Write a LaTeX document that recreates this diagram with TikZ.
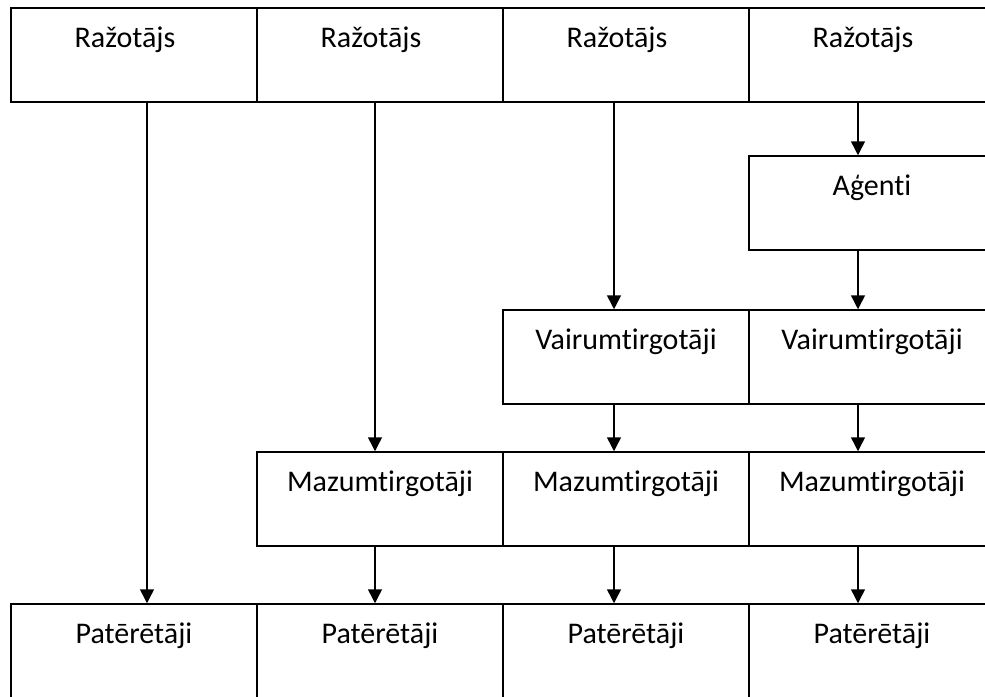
\documentclass[tikz,border=0pt]{standalone}
\usepackage{fontspec}
\setmainfont[Ligatures={NoCommon}]{Carlito}
\usetikzlibrary{arrows.meta}

\begin{document}
\begin{tikzpicture}[x=1pt, y=-1pt, line width=1.5pt,
        cell/.style={draw, rectangle, minimum width=246pt, inner xsep=0pt, inner ysep=0pt,
            text height=39pt, text depth=55pt, font=\fontsize{30}{36}\selectfont},
        arr/.style={-{Triangle[length=14pt, width=14pt]}}]
            \useasboundingbox (0, 0) rectangle (985, 696);
            % razotaji
            \node[cell] (r1) at (134, 55) {Ražotājs\hspace*{18pt}};
            \node[cell] (r2) at (380, 55) {Ražotājs\hspace*{18pt}};
            \node[cell] (r3) at (626, 55) {Ražotājs\hspace*{18pt}};
            \node[cell] (r4) at (872, 55) {Ražotājs\hspace*{18pt}};
            % agenti
            \node[cell] (ag) at (872, 203) {Aģenti};
            % vairumtirgotaji
            \node[cell] (v3) at (626, 357) {Vairumtirgotāji};
            \node[cell] (v4) at (872, 357) {Vairumtirgotāji};
            % mazumtirgotaji
            \node[cell] (m2) at (380, 499) {Mazumtirgotāji};
            \node[cell] (m3) at (626, 499) {Mazumtirgotāji};
            \node[cell] (m4) at (872, 499) {Mazumtirgotāji};
            % pateretaji
            \node[cell] (p1) at (134, 651) {Patērētāji};
            \node[cell] (p2) at (380, 651) {Patērētāji};
            \node[cell] (p3) at (626, 651) {Patērētāji};
            \node[cell] (p4) at (872, 651) {Patērētāji};
            % arrows
            \draw[arr] ([xshift=13pt]r1.south) -- ([xshift=13pt]p1.north);
            \draw[arr] ([xshift=-5pt]r2.south) -- ([xshift=-5pt]m2.north);
            \draw[arr] ([xshift=-5pt]m2.south) -- ([xshift=-5pt]p2.north);
            \draw[arr] ([xshift=-12pt]r3.south) -- ([xshift=-12pt]v3.north);
            \draw[arr] ([xshift=-12pt]v3.south) -- ([xshift=-12pt]m3.north);
            \draw[arr] ([xshift=-12pt]m3.south) -- ([xshift=-12pt]p3.north);
            \draw[arr] ([xshift=-14pt]r4.south) -- ([xshift=-14pt]ag.north);
            \draw[arr] ([xshift=-14pt]ag.south) -- ([xshift=-14pt]v4.north);
            \draw[arr] ([xshift=-14pt]v4.south) -- ([xshift=-14pt]m4.north);
            \draw[arr] ([xshift=-14pt]m4.south) -- ([xshift=-14pt]p4.north);
        \end{tikzpicture}
\end{document}
